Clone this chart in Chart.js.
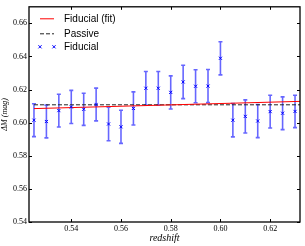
<!DOCTYPE html>
<html><head><meta charset="utf-8">
<script src="https://cdn.jsdelivr.net/npm/chart.js@4.4.0/dist/chart.umd.min.js"></script>
<style>html,body{margin:0;padding:0;background:#fff;overflow:hidden;}</style>
</head><body>
<canvas id="c" width="305" height="246" style="width:305px;height:246px;display:block"></canvas>
<script>
// ---- data ----
const redshift = [0.525,0.530,0.535,0.540,0.545,0.550,0.555,0.560,0.565,0.570,0.575,0.580,0.585,0.590,0.595,0.600,0.605,0.610,0.615,0.620,0.625,0.630];
const deltaM = [0.6015,0.6007,0.6073,0.6095,0.6081,0.6110,0.5992,0.5975,0.6086,0.6208,0.6208,0.6183,0.6246,0.6220,0.6221,0.6389,0.6015,0.6038,0.6010,0.6067,0.6057,0.6068];
const deltaMErr = [0.0099,0.0099,0.0099,0.0100,0.0097,0.0099,0.0101,0.0100,0.0100,0.0101,0.0101,0.0100,0.0101,0.0100,0.0100,0.0100,0.0101,0.0100,0.0100,0.0099,0.0099,0.0098];
const fitRedshift = [0.525, 0.635];
const fitDeltaM = [0.6085, 0.6130];
const passiveRedshift = [0.525, 0.635];
const passiveDeltaM = [0.6108, 0.6108];
const xTicks = [0.54, 0.56, 0.58, 0.60, 0.62];
const yTicks = [0.54, 0.56, 0.58, 0.60, 0.62, 0.64, 0.66];
const seriesLabels = ['Fiducial (fit)', 'Passive', 'Fiducial'];
const xLabel = 'redshift';
const yLabel = 'ΔM (mag)';

const pts = (xs, ys) => xs.map((x, i) => ({x, y: ys[i]}));

const errorBars = {
  id: 'errorBars',
  beforeDatasetsDraw(chart) {
    const {ctx, scales: {x, y}, chartArea: a} = chart;
    ctx.save();
    ctx.beginPath(); ctx.rect(a.left, a.top, a.right - a.left, a.bottom - a.top); ctx.clip();
    ctx.strokeStyle = 'rgba(0,0,255,0.6)';
    ctx.lineWidth = 1.6;
    redshift.forEach((r, i) => {
      const px = x.getPixelForValue(r);
      const y1 = y.getPixelForValue(deltaM[i] + deltaMErr[i]);
      const y0 = y.getPixelForValue(deltaM[i] - deltaMErr[i]);
      ctx.beginPath();
      ctx.moveTo(px, y1); ctx.lineTo(px, y0);
      ctx.moveTo(px - 2, y1); ctx.lineTo(px + 2, y1);
      ctx.moveTo(px - 2, y0); ctx.lineTo(px + 2, y0);
      ctx.stroke();
    });
    ctx.restore();
  }
};

const frame = {
  id: 'frame',
  afterDatasetsDraw(chart) {
    const {ctx, scales: {x, y}, chartArea: a} = chart;
    ctx.save();
    ctx.strokeStyle = '#000';
    ctx.lineWidth = 1;
    const L = 3;
    ctx.beginPath();
    xTicks.forEach(t => {
      const p = Math.round(x.getPixelForValue(t)) + 0.5;
      ctx.moveTo(p, a.bottom); ctx.lineTo(p, a.bottom - L);
      ctx.moveTo(p, a.top); ctx.lineTo(p, a.top + L);
    });
    yTicks.forEach(t => {
      const p = Math.round(y.getPixelForValue(t)) + 0.5;
      ctx.moveTo(a.left, p); ctx.lineTo(a.left + L, p);
      ctx.moveTo(a.right, p); ctx.lineTo(a.right - L, p);
    });
    ctx.stroke();
    ctx.lineWidth = 1.3;
    ctx.strokeRect(a.left, a.top, a.right - a.left, a.bottom - a.top);
    // legend
    const lx = a.left + 11, tx = a.left + 35;
    const rows = [a.top + 12, a.top + 27, a.top + 40];
    ctx.font = '10px "Liberation Sans", Arial, sans-serif';
    ctx.textBaseline = 'middle';
    ctx.fillStyle = '#000';
    const ds = chart.data.datasets;
    ctx.strokeStyle = ds[0].borderColor; ctx.lineWidth = 1; ctx.setLineDash([]);
    ctx.beginPath(); ctx.moveTo(lx, rows[0]); ctx.lineTo(lx + 14, rows[0]); ctx.stroke();
    ctx.strokeStyle = ds[1].borderColor; ctx.setLineDash(ds[1].borderDash);
    ctx.beginPath(); ctx.moveTo(lx, rows[1]); ctx.lineTo(lx + 14, rows[1]); ctx.stroke();
    ctx.setLineDash([]);
    ctx.strokeStyle = ds[2].borderColor; ctx.lineWidth = 1;
    [lx, lx + 14].forEach(cx => {
      const r = 1.6, cy = rows[2];
      ctx.beginPath();
      ctx.moveTo(cx - r, cy - r); ctx.lineTo(cx + r, cy + r);
      ctx.moveTo(cx - r, cy + r); ctx.lineTo(cx + r, cy - r);
      ctx.stroke();
    });
    seriesLabels.forEach((s, i) => ctx.fillText(s, tx, rows[i] + 0.5));
    ctx.restore();
  }
};

const tickFont = {family: '"Liberation Serif", "DejaVu Serif", serif', size: 8};
new Chart(document.getElementById('c'), {
  type: 'scatter',
  data: {
    datasets: [
      {label: seriesLabels[0], data: pts(fitRedshift, fitDeltaM), showLine: true, borderColor: '#ff0000', borderWidth: 1, pointRadius: 0, order: 1},
      {label: seriesLabels[1], data: pts(passiveRedshift, passiveDeltaM), showLine: true, borderColor: '#222222', borderWidth: 1, borderDash: [4, 2], pointRadius: 0, order: 2},
      {label: seriesLabels[2], data: pts(redshift, deltaM), showLine: false, pointStyle: 'crossRot', pointRadius: 2.2, borderColor: '#0000ff', borderWidth: 1, order: 0}
    ]
  },
  options: {
    responsive: false,
    devicePixelRatio: 1,
    animation: false,
    layout: {padding: {left: 0, right: 4, top: 4, bottom: 0}},
    plugins: {legend: {display: false}, tooltip: {enabled: false}},
    scales: {
      x: {
        type: 'linear', min: 0.523, max: 0.632,
        afterBuildTicks: s => { s.ticks = xTicks.map(v => ({value: v})); },
        afterFit: s => { s.height = 24; },
        grid: {display: false, drawTicks: false},
        border: {display: false},
        ticks: {font: tickFont, color: '#000', padding: 2, maxRotation: 0, callback: v => v.toFixed(2)},
        title: {display: true, text: xLabel, font: {family: '"Liberation Serif", "DejaVu Serif", serif', size: 10, style: 'italic'}, color: '#000', padding: {top: 0, bottom: 2}}
      },
      y: {
        type: 'linear', min: 0.54, max: 0.67,
        afterBuildTicks: s => { s.ticks = yTicks.map(v => ({value: v})); },
        afterFit: s => { s.width = 29; },
        grid: {display: false, drawTicks: false},
        border: {display: false},
        ticks: {font: tickFont, color: '#000', padding: 2, callback: v => v.toFixed(2)},
        title: {display: true, text: yLabel, font: {family: '"Liberation Serif", "DejaVu Serif", serif', size: 8, style: 'italic'}, color: '#000', padding: {top: 0, bottom: 0}}
      }
    }
  },
  plugins: [errorBars, frame]
});
</script>
</body></html>
